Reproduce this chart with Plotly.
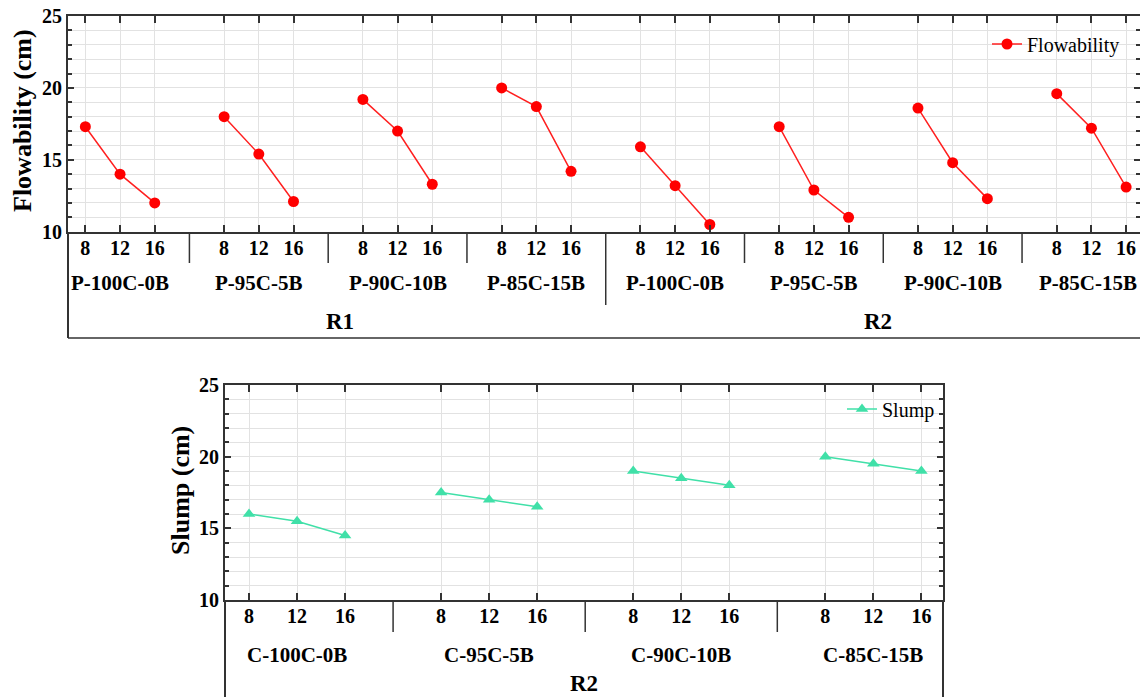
import plotly.graph_objects as go

# ---------------- data ----------------
steps = [8, 12, 16]
flow_groups = ["P-100C-0B", "P-95C-5B", "P-90C-10B", "P-85C-15B",
               "P-100C-0B", "P-95C-5B", "P-90C-10B", "P-85C-15B"]
flow_regions = ["R1", "R2"]
flow_values = [
    [17.3, 14.0, 12.0],
    [18.0, 15.4, 12.1],
    [19.2, 17.0, 13.3],
    [20.0, 18.7, 14.2],
    [15.9, 13.2, 10.5],
    [17.3, 12.9, 11.0],
    [18.6, 14.8, 12.3],
    [19.6, 17.2, 13.1],
]
slump_groups = ["C-100C-0B", "C-95C-5B", "C-90C-10B", "C-85C-15B"]
slump_region = "R2"
slump_values = [
    [16.0, 15.5, 14.5],
    [17.5, 17.0, 16.5],
    [19.0, 18.5, 18.0],
    [20.0, 19.5, 19.0],
]
y_ticks = [10, 15, 20, 25]

# ---------------- helpers ----------------
W, H = 1140, 697
def px(x):
    return x / W
def py(y):
    return 1 - y / H

SERIF = "Liberation Serif"
AX = "#333333"
GRID = "#e2e2e2"

def build_series(values):
    xs, ys, tv, tt = [], [], [], []
    for g, vals in enumerate(values):
        for k, v in enumerate(vals):
            xs.append(4 * g + k)
            ys.append(v)
            tv.append(4 * g + k)
            tt.append(str(steps[k]))
        xs.append(None)
        ys.append(None)
    return xs, ys, tv, tt

fx, fy, ftv, ftt = build_series(flow_values)
sx, sy, stv, stt = build_series(slump_values)

fig = go.Figure()
fig.add_trace(go.Scatter(
    x=fx, y=fy, mode="lines+markers", name="Flowability",
    xaxis="x", yaxis="y", legend="legend", connectgaps=False,
    line=dict(color="#ff2020", width=1.5),
    marker=dict(color="#ff0000", size=11, symbol="circle"),
))
fig.add_trace(go.Scatter(
    x=sx, y=sy, mode="lines+markers", name="Slump",
    xaxis="x2", yaxis="y2", legend="legend2", connectgaps=False,
    line=dict(color="#40e0a8", width=1.5),
    marker=dict(color="#40e0a8", size=11, symbol="triangle-up"),
))

def xaxis(domain, rng, tv, tt, anchor):
    return dict(
        domain=domain, range=rng, anchor=anchor,
        tickmode="array", tickvals=tv, ticktext=tt,
        ticks="inside", ticklen=7, tickwidth=1.5, tickcolor=AX,
        showline=True, linecolor=AX, linewidth=2, mirror="ticks",
        showgrid=True, gridcolor=GRID, gridwidth=1, zeroline=False,
        automargin=False, ticklabelstandoff=-3,
        tickfont=dict(family=SERIF, size=20, color="black", weight="bold"),
    )

def yaxis(domain, anchor):
    return dict(
        domain=domain, range=[10, 25], anchor=anchor,
        tickmode="array", tickvals=y_ticks,
        ticks="inside", ticklen=6, tickwidth=1.5, tickcolor=AX,
        minor=dict(dtick=1, tick0=10, ticks="inside", ticklen=4, tickcolor=AX,
                   showgrid=True, gridcolor=GRID, gridwidth=1),
        showline=True, linecolor=AX, linewidth=2, mirror="ticks",
        showgrid=True, gridcolor=GRID, gridwidth=1, zeroline=False,
        automargin=False,
        tickfont=dict(family=SERIF, size=20, color="black", weight="bold"),
    )

top_x = [px(68), 1.0]
top_y = [py(231.7), py(16)]
bot_x = [px(225), px(943)]
bot_y = [py(600), py(385)]

shapes = []
line_style = dict(color=AX, width=1.5)
# top chart group separators
for g in range(len(flow_values) - 1):
    y1 = 305 if g == 3 else 263
    shapes.append(dict(type="line", xref="x", yref="paper", x0=4 * g + 3, x1=4 * g + 3,
                       y0=py(232), y1=py(y1), line=line_style))
# top frame below axis
shapes.append(dict(type="line", xref="paper", yref="paper", x0=px(68), x1=px(68),
                   y0=py(232), y1=py(338), line=dict(color=AX, width=2)))
shapes.append(dict(type="line", xref="paper", yref="paper", x0=px(68), x1=1.0,
                   y0=py(338), y1=py(338), line=dict(color=AX, width=1.5)))
# bottom chart separators
for g in range(len(slump_values) - 1):
    shapes.append(dict(type="line", xref="x2", yref="paper", x0=4 * g + 3, x1=4 * g + 3,
                       y0=py(600), y1=py(632), line=line_style))
for xx in (225, 943):
    shapes.append(dict(type="line", xref="paper", yref="paper", x0=px(xx), x1=px(xx),
                       y0=py(600), y1=0, line=dict(color=AX, width=2)))

annotations = []
grp_font = dict(family=SERIF, size=21, color="black", weight="bold")
reg_font = dict(family=SERIF, size=23, color="black", weight="bold")
def ann(xref, x, y, text, font, angle=0, xanchor="center"):
    return dict(xref=xref, yref="paper", x=x, y=y, text=text, showarrow=False,
                font=font, xanchor=xanchor, yanchor="middle", textangle=angle)

for g, name in enumerate(flow_groups):
    if g == len(flow_groups) - 1:
        # last label sits flush against the right edge of the figure
        annotations.append(ann("paper", px(1139), py(283), name, grp_font, xanchor="right"))
    else:
        annotations.append(ann("x", 4 * g + 1, py(283), name, grp_font))
annotations.append(ann("paper", px(339.5), py(322), flow_regions[0], reg_font))
annotations.append(ann("paper", px(878), py(322), flow_regions[1], reg_font))
for g, name in enumerate(slump_groups):
    annotations.append(ann("x2", 4 * g + 1, py(655), name, grp_font))
annotations.append(ann("paper", px(584), py(683), slump_region, reg_font))
# axis titles
title_font = dict(family=SERIF, size=26, color="black", weight="bold")
annotations.append(ann("paper", px(23), py(121), "Flowability (cm)", title_font, -90))
annotations.append(ann("paper", px(180), py(491), "Slump (cm)", title_font, -90))

fig.update_layout(
    width=W, height=H,
    margin=dict(l=0, r=0, t=0, b=0, pad=0, autoexpand=False),
    paper_bgcolor="white", plot_bgcolor="white",
    xaxis=xaxis(top_x, [-0.5, 30.4], ftv, ftt, "y"),
    yaxis=yaxis(top_y, "x"),
    xaxis2=xaxis(bot_x, [-0.5, 14.45], stv, stt, "y2"),
    yaxis2=yaxis(bot_y, "x2"),
    shapes=shapes,
    annotations=annotations,
    legend=dict(x=px(987), y=py(44), xanchor="left", yanchor="middle",
                bgcolor="rgba(0,0,0,0)", borderwidth=0,
                font=dict(family=SERIF, size=20, color="black")),
    legend2=dict(x=px(842), y=py(409), xanchor="left", yanchor="middle",
                 bgcolor="rgba(0,0,0,0)", borderwidth=0,
                 font=dict(family=SERIF, size=20, color="black")),
    showlegend=True,
)

fig.write_html("out.html")
